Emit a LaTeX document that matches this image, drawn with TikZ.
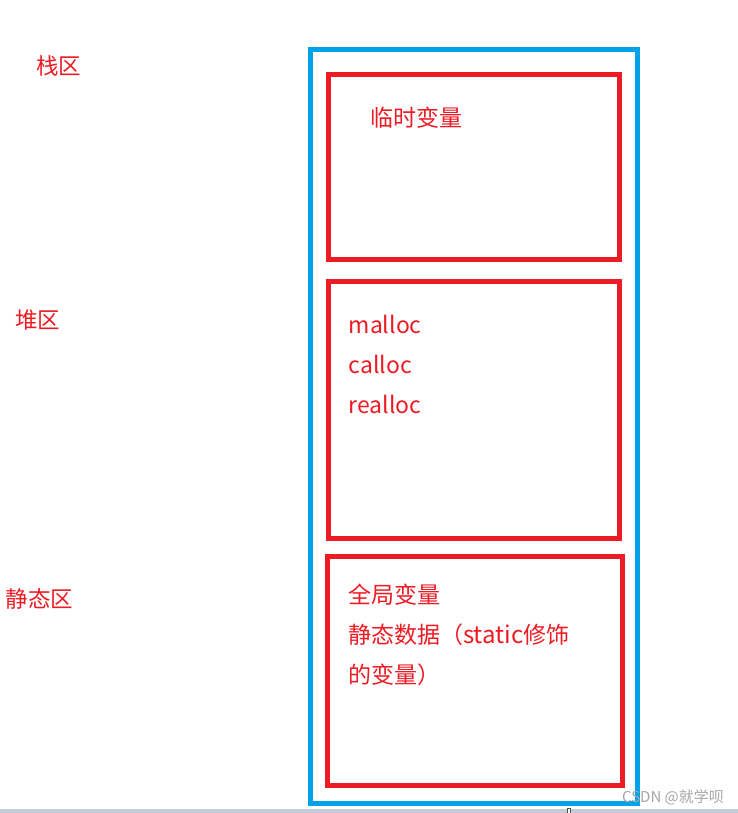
\documentclass[tikz,border=0pt]{standalone}
\usepackage{fontspec}
\setmainfont{Noto Sans CJK SC}
\definecolor{pred}{HTML}{ED1C24}
\definecolor{pblue}{HTML}{00A2E8}
\definecolor{barcol}{HTML}{C3CBD6}
\begin{document}
\begin{tikzpicture}[x=1pt,y=-1pt,
  redbox/.style={draw=pred,line width=5pt,inner sep=0pt},
  bluebox/.style={draw=pblue,line width=5pt,inner sep=0pt},
  lbl/.style={text=pred,inner sep=0pt,font=\fontsize{22.5}{26}\selectfont},
  txt/.style={text=pred,inner sep=0pt,anchor=base west,font=\fontsize{23}{27}\selectfont},
  wm/.style={text=black!35,inner sep=0pt,font=\fontsize{15}{17}\selectfont}]
\useasboundingbox (0,0) rectangle (738,813);
\fill[white] (0,0) rectangle (738,813);
\fill[barcol] (0,809) rectangle (738,813);
\draw[black!70,fill=white,line width=0.8pt] (567,808.5) rectangle (570.5,813);
% outer blue box
\node[bluebox,minimum width=327.5pt,minimum height=753.5pt] (outer) at (473.75,426.75) {};
% red boxes
\node[redbox,minimum width=290.5pt,minimum height=184.2pt] (stack) at (473.75,166.9) {};
\node[redbox,minimum width=290.5pt,minimum height=257pt] (heap) at (473.75,409.5) {};
\node[redbox,minimum width=295pt,minimum height=229.8pt] (static) at (475,670.9) {};
% left labels
\node[lbl] (lstack) at (58.5,66) {栈区};
\node[lbl] (lheap) at (37.5,320.5) {堆区};
\node[lbl] (lstatic) at (39.5,599) {静态区};
% box texts
\node[txt] (t1) at (370,126.7) {临时变量};
\node[txt] (t2) at (348.5,333) {malloc};
\node[txt] (t3) at (348.5,373) {calloc};
\node[txt] (t4) at (348.5,413) {realloc};
\node[txt] (t5) at (348,603.5) {全局变量};
\node[txt] (t6) at (348,643) {静态数据（{\fontsize{24}{27}\selectfont static}修饰};
\node[txt] (t7) at (348,683) {的变量）};
% watermark
\node[wm] (wmark) at (673,797) {CSDN @就学呗};
\end{tikzpicture}
\end{document}
